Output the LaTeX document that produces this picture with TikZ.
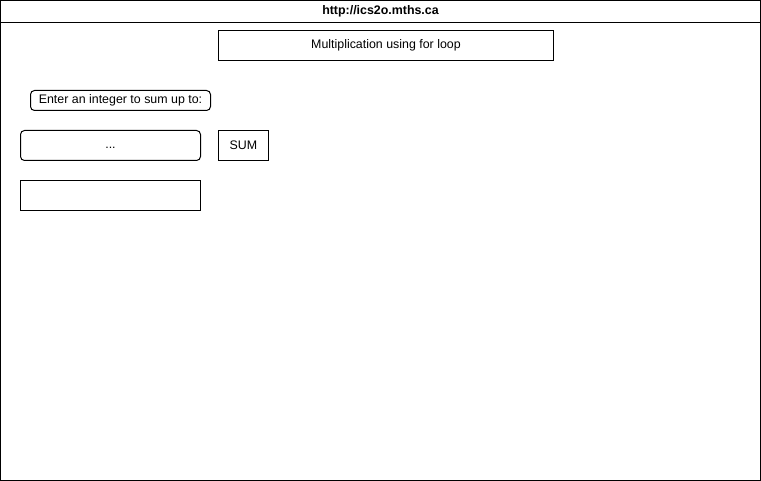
\documentclass[tikz,border=0pt]{standalone}
\usepackage{fontspec}
\setmainfont{Liberation Sans}
\usepackage{tikz}
\usetikzlibrary{positioning}
\tikzstyle{box}       = [rectangle, anchor=north west, draw=black, fill=white, line width=1pt, inner sep=0pt, outer sep=0pt, text centered, font=\fontsize{12.4}{14}\selectfont]
\tikzstyle{rbox}      = [box, rounded corners=4pt]

\begin{document}
\begin{tikzpicture}[x=1pt, y=-1pt]
      \useasboundingbox (0,0) rectangle (761,481);
      % browser window
      \node (win)   [box, minimum width=760pt, minimum height=480pt] at (0.5,0.5) {};
      \node (bar)   [box, minimum width=760pt, minimum height=22pt, font=\fontsize{12.4}{14}\selectfont\bfseries] at (0.5,0.5) {http://ics2o.mths.ca};

      \node (title) [box, minimum width=335pt, minimum height=30pt] at (218.5,30.5) {Multiplication using for loop};
      \node (ask)   [rbox, minimum width=180pt, minimum height=20pt] at (30.5,90.5) {Enter an integer to sum up to:};
      \node (input) [rbox, minimum width=180pt, minimum height=30pt] at (20.5,130.5) {\vphantom{Ep}...};
      \node (sum)   [box, minimum width=50pt, minimum height=30pt, right=18pt of input.north east, anchor=north west] {SUM};
      \node (out)   [box, minimum width=180pt, minimum height=30pt, below=20pt of input.south west, anchor=north west] {};

    \end{tikzpicture}
\end{document}
